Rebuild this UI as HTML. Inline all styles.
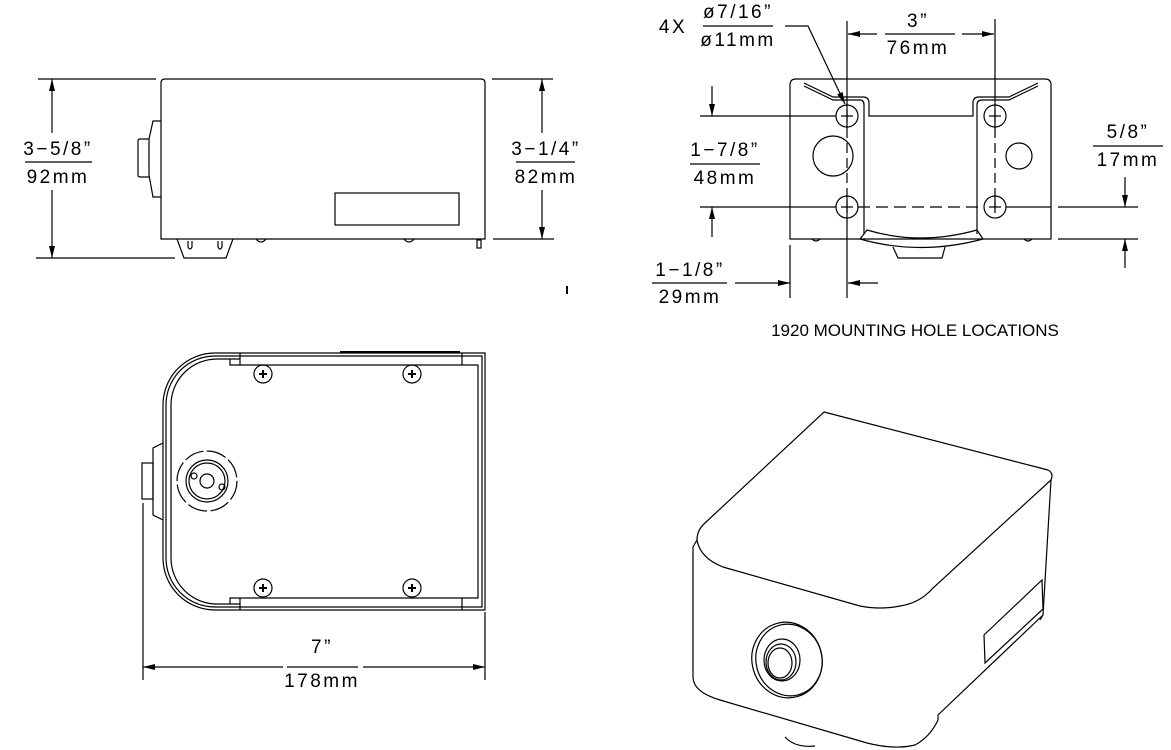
<!DOCTYPE html>
<html><head><meta charset="utf-8"><style>
html,body{margin:0;padding:0;background:#fff}
svg{display:block}
text{font-family:"Liberation Sans",sans-serif;font-size:19px;fill:#000;letter-spacing:2.5px}
</style></head><body>
<svg width="1171" height="750" viewBox="0 0 1171 750" xmlns="http://www.w3.org/2000/svg">
<defs>
<marker id="a" viewBox="0 0 12 6" refX="12" refY="3" markerWidth="12" markerHeight="6" markerUnits="userSpaceOnUse" orient="auto"><path d="M0,0 L12,3 L0,6z" fill="#000"/></marker>
</defs>
<g fill="none" stroke="#000" stroke-width="1.2">
<!-- SIDE VIEW -->
<path d="M161,239 L161,83 Q161,79 165,79 L481,79 Q485,79 485,83 L485,239 Z"/>
<rect x="335" y="193" width="124" height="32"/>
<path d="M161,121 L153,121 L149,139 L149,175 L153,197 L161,197"/>
<path d="M149,139 L140,139 Q138,139 138,141 L138,175 Q138,177 140,177 L149,177"/>
<path d="M177,239 L184,258 L226,258 L233,239"/>
<path d="M188,241 L188,247 Q190,251 192,247 L192,241"/>
<path d="M218,241 L218,247 Q220,251 222,247 L222,241"/>
<path d="M256,239 Q261,245 266,239"/>
<path d="M404,239 Q409,245 414,239"/>
<rect x="477" y="240" width="4" height="8"/>
<line x1="38" y1="79" x2="156" y2="79"/>
<line x1="36" y1="258" x2="175" y2="258"/>
<line x1="52" y1="133" x2="52" y2="79" marker-end="url(#a)"/>
<line x1="52" y1="190" x2="52" y2="258" marker-end="url(#a)"/>
<line x1="25" y1="162" x2="92" y2="162"/>
<line x1="492" y1="79" x2="553" y2="79"/>
<line x1="493" y1="239" x2="554" y2="239"/>
<line x1="542" y1="133" x2="542" y2="79" marker-end="url(#a)"/>
<line x1="542" y1="190" x2="542" y2="239" marker-end="url(#a)"/>
<line x1="516" y1="162" x2="575" y2="162"/>
<line x1="567" y1="286" x2="567" y2="294" stroke-width="2"/>

<!-- MOUNTING VIEW -->
<path d="M790,239 L790,85 Q790,79 796,79 L1045,79 Q1051,79 1051,85 L1051,239 Z"/>
<path d="M804,83 L833,97 L863,97 Q869,97 869,103 L869,116 L973,116 L973,103 Q973,97 979,97 L1009,97 L1038,83"/>
<path d="M804,86 L833,100 L860,100 Q864,100 864,105 L864,234"/>
<path d="M1038,86 L1009,100 L982,100 Q977,100 977,105 L977,234"/>
<path d="M860,239 L867,230 Q920,246 977,230 L983,239"/>
<path d="M860,239 Q920,256 983,239"/>
<path d="M893,247 L898,258 L942,258 L945,247"/>
<path d="M812,239 Q816,243 820,239 M1024,239 Q1028,243 1032,239"/>
<circle cx="833" cy="156" r="20"/>
<circle cx="1019" cy="156" r="13"/>
<g>
<circle cx="847" cy="116" r="11"/><circle cx="995" cy="116" r="11"/>
<circle cx="847" cy="207" r="11"/><circle cx="995" cy="207" r="11"/>
<path d="M841,116h12M847,110v12M989,116h12M995,110v12M841,207h12M847,201v12M989,207h12M995,201v12"/>
</g>
<line x1="847" y1="21" x2="847" y2="128"/>
<line x1="847" y1="128" x2="847" y2="196" stroke-dasharray="10,5"/>
<line x1="847" y1="196" x2="847" y2="298"/>
<line x1="995" y1="19" x2="995" y2="128"/>
<line x1="995" y1="128" x2="995" y2="196" stroke-dasharray="10,5"/>
<line x1="995" y1="196" x2="995" y2="210"/>
<line x1="700" y1="116" x2="836" y2="116"/>
<line x1="700" y1="207" x2="836" y2="207"/>
<line x1="858" y1="207" x2="984" y2="207" stroke-dasharray="12,6"/>
<line x1="1006" y1="207" x2="1051" y2="207"/>
<line x1="1058" y1="207" x2="1138" y2="207"/>
<line x1="1058" y1="239" x2="1138" y2="239"/>
<line x1="712" y1="86" x2="712" y2="116" marker-end="url(#a)"/>
<line x1="712" y1="237" x2="712" y2="207" marker-end="url(#a)"/>
<line x1="690" y1="164" x2="760" y2="164"/>
<line x1="1125" y1="177" x2="1125" y2="207" marker-end="url(#a)"/>
<line x1="1125" y1="268" x2="1125" y2="239" marker-end="url(#a)"/>
<line x1="1093" y1="146" x2="1163" y2="146"/>
<line x1="877" y1="34" x2="848" y2="34" marker-end="url(#a)"/>
<line x1="885" y1="34" x2="955" y2="34"/>
<line x1="962" y1="34" x2="994" y2="34" marker-end="url(#a)"/>
<line x1="703" y1="26" x2="773" y2="26"/>
<path d="M785,26 L808,26 L845,104" marker-end="url(#a)"/>
<line x1="652" y1="283" x2="727" y2="283"/>
<line x1="735" y1="283" x2="790" y2="283" marker-end="url(#a)"/>
<line x1="790" y1="245" x2="790" y2="298"/>
<line x1="878" y1="283" x2="848" y2="283" marker-end="url(#a)"/>

<!-- TOP VIEW -->
<path d="M485,353 L215,353 A52,52 0 0 0 163,405 L163,558 A52,52 0 0 0 215,610 L485,610 Z"/>
<path d="M482,356 L215,356 A49,49 0 0 0 166,405 L166,558 A49,49 0 0 0 215,607 L482,607 Z"/>
<path d="M240,359 L217,359 A46,46 0 0 0 171,405 L171,558 A46,46 0 0 0 217,604 L240,604"/>
<path d="M230,359 L230,365 L240,365 M240,353 L240,365 L462,365 L462,353 M462,365 L478,365 L478,598 L462,598 L462,610 M240,610 L240,598 L462,598 M240,598 L230,598 L230,604"/>
<line x1="340" y1="352" x2="460" y2="352" stroke-width="2"/>
<circle cx="263" cy="374" r="9"/><circle cx="412" cy="374" r="9"/>
<circle cx="263" cy="588" r="9"/><circle cx="412" cy="588" r="9"/>
<path d="M259,374h8M263,370v8M408,374h8M412,370v8M259,588h8M263,584v8M408,588h8M412,584v8" stroke-width="2"/>
<circle cx="207" cy="481" r="30" stroke-dasharray="20,3.5"/>
<circle cx="207" cy="481" r="21"/>
<circle cx="207" cy="481" r="18"/>
<circle cx="207" cy="481" r="7"/>
<circle cx="194" cy="476" r="3"/>
<circle cx="222" cy="487" r="3"/>
<path d="M163,443 L153,448 L153,515 L163,520"/>
<rect x="142" y="463" width="11" height="36"/>
<line x1="143" y1="503" x2="143" y2="680"/>
<line x1="485" y1="612" x2="485" y2="680"/>
<line x1="283" y1="667" x2="143" y2="667" marker-end="url(#a)"/>
<line x1="287" y1="667" x2="358" y2="667"/>
<line x1="363" y1="667" x2="485" y2="667" marker-end="url(#a)"/>

<!-- ISO VIEW -->
<path d="M824,412 L1048,470 Q1054,473 1051,480 L933,588 Q920,603 900,606 Q880,610 860,606 L723,567 Q700,558 697,540 Q697,530 705,523 Z"/>
<path d="M697,540 L693,547 L693,677 Q693,692 720,700 L867,743 Q895,750 915,745 Q930,737 938,720 L938,715 L1043,615 L1051,480"/>
<path d="M984,635 L1042,580 L1043,609 L985,663 Z"/>
<path d="M1040,620 L1043,615"/>
<ellipse cx="787" cy="660" rx="35" ry="38" transform="rotate(-15 787 660)"/>
<ellipse cx="789" cy="660" rx="33" ry="36" transform="rotate(-15 789 660)"/>
<ellipse cx="782" cy="660" rx="18" ry="21"/>
<ellipse cx="781" cy="662" rx="15" ry="18"/>
<ellipse cx="780" cy="663" rx="12" ry="15"/>
<path d="M785,737 Q795,748 815,746"/>
</g>
<g>
<text x="58" y="155" text-anchor="middle">3−5/8”</text>
<text x="58" y="183" text-anchor="middle">92mm</text>
<text x="546" y="155" text-anchor="middle">3−1/4”</text>
<text x="546" y="183" text-anchor="middle">82mm</text>
<text x="673" y="33" text-anchor="middle">4X</text>
<text x="738" y="18" text-anchor="middle">ø7/16”</text>
<text x="738" y="46" text-anchor="middle">ø11mm</text>
<text x="918" y="27" text-anchor="middle">3”</text>
<text x="918" y="54" text-anchor="middle">76mm</text>
<text x="725" y="156" text-anchor="middle">1−7/8”</text>
<text x="725" y="184" text-anchor="middle">48mm</text>
<text x="1128" y="138" text-anchor="middle">5/8”</text>
<text x="1128" y="166" text-anchor="middle">17mm</text>
<text x="690" y="276" text-anchor="middle">1−1/8”</text>
<text x="690" y="303" text-anchor="middle">29mm</text>
<text x="322" y="653" text-anchor="middle">7”</text>
<text x="322" y="687" text-anchor="middle">178mm</text>
<text x="915" y="336" text-anchor="middle" style="font-size:17px;letter-spacing:0">1920 MOUNTING HOLE LOCATIONS</text>
</g>
</svg>
</body></html>
